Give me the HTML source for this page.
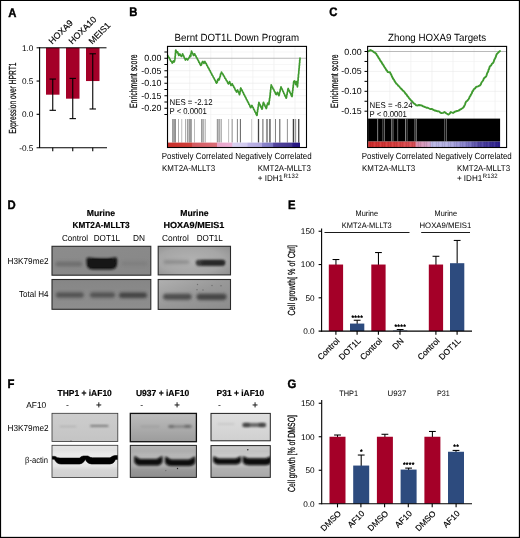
<!DOCTYPE html>
<html><head><meta charset="utf-8"><title>Figure</title>
<style>html,body{margin:0;padding:0;background:#fff;}body{width:520px;height:538px;overflow:hidden;}svg{display:block;font-family:"Liberation Sans",sans-serif;text-rendering:geometricPrecision;will-change:transform;}</style>
</head><body>
<svg width="520" height="538" viewBox="0 0 520 538">
<defs>
<filter id="bl0_6" x="-30%" y="-100%" width="160%" height="300%"><feGaussianBlur stdDeviation="0.6"/></filter><filter id="bl0_8" x="-30%" y="-100%" width="160%" height="300%"><feGaussianBlur stdDeviation="0.8"/></filter><filter id="bl0_9" x="-30%" y="-100%" width="160%" height="300%"><feGaussianBlur stdDeviation="0.9"/></filter><filter id="bl1" x="-30%" y="-100%" width="160%" height="300%"><feGaussianBlur stdDeviation="1"/></filter><filter id="bl1_1" x="-30%" y="-100%" width="160%" height="300%"><feGaussianBlur stdDeviation="1.1"/></filter><filter id="bl1_2" x="-30%" y="-100%" width="160%" height="300%"><feGaussianBlur stdDeviation="1.2"/></filter><filter id="bl1_5" x="-30%" y="-100%" width="160%" height="300%"><feGaussianBlur stdDeviation="1.5"/></filter><filter id="bl1_6" x="-30%" y="-100%" width="160%" height="300%"><feGaussianBlur stdDeviation="1.6"/></filter><filter id="bl1_7" x="-30%" y="-100%" width="160%" height="300%"><feGaussianBlur stdDeviation="1.7"/></filter>
<linearGradient id="cbB" x1="0" x2="1" y1="0" y2="0"><stop offset="0" stop-color="#c9302b"/><stop offset="0.18" stop-color="#cf3f3a"/><stop offset="0.185" stop-color="#d45a60"/><stop offset="0.37" stop-color="#db6e78"/><stop offset="0.375" stop-color="#e9a3c9"/><stop offset="0.485" stop-color="#ebb0d4"/><stop offset="0.49" stop-color="#d9d2f0"/><stop offset="0.60" stop-color="#cfc8ee"/><stop offset="0.605" stop-color="#bdb4e6"/><stop offset="0.71" stop-color="#b1a8e0"/><stop offset="0.715" stop-color="#8c86cc"/><stop offset="0.795" stop-color="#7d78c4"/><stop offset="0.80" stop-color="#54479f"/><stop offset="0.94" stop-color="#43368f"/><stop offset="0.945" stop-color="#2a1b86"/><stop offset="1" stop-color="#24157e"/></linearGradient>
<linearGradient id="cbC" x1="0" x2="1" y1="0" y2="0"><stop offset="0" stop-color="#cf2c2c"/><stop offset="0.2" stop-color="#d43c3c"/><stop offset="0.355" stop-color="#d85058"/><stop offset="0.365" stop-color="#d88aa8"/><stop offset="0.47" stop-color="#cfa4cc"/><stop offset="0.48" stop-color="#b9b6e4"/><stop offset="0.60" stop-color="#b4b1e2"/><stop offset="0.66" stop-color="#a29ddb"/><stop offset="0.76" stop-color="#7a74c2"/><stop offset="0.84" stop-color="#5146a2"/><stop offset="1" stop-color="#2a1d8a"/></linearGradient>
<linearGradient id="gD1" x1="0" x2="1" y1="0" y2="1"><stop offset="0" stop-color="#8c8c8c"/><stop offset="1" stop-color="#878787"/></linearGradient>
<linearGradient id="gD2" x1="0" x2="0" y1="0" y2="1"><stop offset="0" stop-color="#868686"/><stop offset="1" stop-color="#8e8e8e"/></linearGradient>
<radialGradient id="gD3" cx="0.45" cy="0.5" r="0.75"><stop offset="0" stop-color="#b2b2b2"/><stop offset="0.6" stop-color="#a6a6a6"/><stop offset="1" stop-color="#8e8e8e"/></radialGradient>
<linearGradient id="gD4" x1="0" x2="1" y1="0" y2="1"><stop offset="0" stop-color="#b0b0b0"/><stop offset="0.5" stop-color="#989898"/><stop offset="1" stop-color="#8c8c8c"/></linearGradient>
<linearGradient id="gF1" x1="0" x2="0" y1="0" y2="1"><stop offset="0" stop-color="#cdcdcd"/><stop offset="1" stop-color="#c4c4c4"/></linearGradient>
<linearGradient id="gF1b" x1="0" x2="0" y1="0" y2="1"><stop offset="0" stop-color="#e4e4e4"/><stop offset="1" stop-color="#d0d0d0"/></linearGradient>
<linearGradient id="gF2" x1="0" x2="0" y1="0" y2="1"><stop offset="0" stop-color="#bdbdbd"/><stop offset="1" stop-color="#9c9c9c"/></linearGradient>
<linearGradient id="gF2b" x1="0" x2="0" y1="0" y2="1"><stop offset="0" stop-color="#b4b4b4"/><stop offset="1" stop-color="#8e8e8e"/></linearGradient>
<linearGradient id="gF3" x1="0" x2="0" y1="0" y2="1"><stop offset="0" stop-color="#dedede"/><stop offset="1" stop-color="#d0d0d0"/></linearGradient>
<linearGradient id="gF3b" x1="0" x2="0" y1="0" y2="1"><stop offset="0" stop-color="#c8c8c8"/><stop offset="1" stop-color="#a8a8a8"/></linearGradient>
</defs>
<rect x="0" y="0" width="520" height="538" fill="#fff"/>
<text font-size="12.3" font-weight="bold" transform="translate(8.3,16.6) scale(0.92,1)" fill="#000" stroke="#000" stroke-width="0.4">A</text>
<rect x="46" y="47.8" width="13.5" height="46.88" fill="#a40028"/>
<line x1="52.75" y1="79.05499999999999" x2="52.75" y2="110.31" stroke="#000" stroke-width="1.1"/>
<line x1="49.55" y1="79.05499999999999" x2="55.95" y2="79.05499999999999" stroke="#000" stroke-width="1.1"/>
<line x1="49.55" y1="110.31" x2="55.95" y2="110.31" stroke="#000" stroke-width="1.1"/>
<rect x="66" y="47.8" width="13.5" height="50.87" fill="#a40028"/>
<line x1="72.75" y1="78.38999999999999" x2="72.75" y2="118.62249999999999" stroke="#000" stroke-width="1.1"/>
<line x1="69.55" y1="78.38999999999999" x2="75.95" y2="78.38999999999999" stroke="#000" stroke-width="1.1"/>
<line x1="69.55" y1="118.62249999999999" x2="75.95" y2="118.62249999999999" stroke="#000" stroke-width="1.1"/>
<rect x="86" y="47.8" width="13.5" height="33.25" fill="#a40028"/>
<line x1="92.75" y1="53.785" x2="92.75" y2="108.97999999999999" stroke="#000" stroke-width="1.1"/>
<line x1="89.55" y1="53.785" x2="95.95" y2="53.785" stroke="#000" stroke-width="1.1"/>
<line x1="89.55" y1="108.97999999999999" x2="95.95" y2="108.97999999999999" stroke="#000" stroke-width="1.1"/>
<line x1="39.6" y1="47.3" x2="39.6" y2="148" stroke="#000" stroke-width="1.1"/>
<line x1="36.6" y1="47.8" x2="106.5" y2="47.8" stroke="#000" stroke-width="1.0"/>
<line x1="36.6" y1="147.8" x2="107" y2="147.8" stroke="#000" stroke-width="1.1"/>
<line x1="36.6" y1="81.05" x2="39.6" y2="81.05" stroke="#000" stroke-width="1.1"/>
<line x1="36.6" y1="114.3" x2="39.6" y2="114.3" stroke="#000" stroke-width="1.1"/>
<line x1="52.75" y1="147.8" x2="52.75" y2="151.2" stroke="#000" stroke-width="1.1"/>
<line x1="72.75" y1="147.8" x2="72.75" y2="151.2" stroke="#000" stroke-width="1.1"/>
<line x1="92.75" y1="147.8" x2="92.75" y2="151.2" stroke="#000" stroke-width="1.1"/>
<text font-size="8.24" text-anchor="end" x="33.4" y="50.75" fill="#000">1.0</text>
<text font-size="8.24" text-anchor="end" x="33.4" y="84.0" fill="#000">0.5</text>
<text font-size="8.24" text-anchor="end" x="33.4" y="117.25" fill="#000">0.0</text>
<text font-size="8.24" text-anchor="end" x="33.4" y="150.5" fill="#000">-0.5</text>
<text font-size="10.27" textLength="71.2" lengthAdjust="spacingAndGlyphs" transform="translate(16,133.7) rotate(-90)" fill="#000" stroke="#000" stroke-width="0.2">Expression over HPRT1</text>
<text font-size="8.83" transform="translate(52.35,44.7) rotate(-45)" fill="#000" stroke="#000" stroke-width="0.15">HOXA9</text>
<text font-size="8.83" transform="translate(72.35,44.7) rotate(-45)" fill="#000" stroke="#000" stroke-width="0.15">HOXA10</text>
<text font-size="8.83" transform="translate(92.35,44.7) rotate(-45)" fill="#000" stroke="#000" stroke-width="0.15">MEIS1</text>
<text font-size="12.3" font-weight="bold" transform="translate(129.3,16.3) scale(0.92,1)" fill="#000" stroke="#000" stroke-width="0.4">B</text>
<line x1="168.7" y1="46.4" x2="168.7" y2="147.5" stroke="#ebebeb" stroke-width="0.6"/>
<line x1="189.75" y1="46.4" x2="189.75" y2="147.5" stroke="#ebebeb" stroke-width="0.6"/>
<line x1="210.79999999999998" y1="46.4" x2="210.79999999999998" y2="147.5" stroke="#ebebeb" stroke-width="0.6"/>
<line x1="231.85" y1="46.4" x2="231.85" y2="147.5" stroke="#ebebeb" stroke-width="0.6"/>
<line x1="252.89999999999998" y1="46.4" x2="252.89999999999998" y2="147.5" stroke="#ebebeb" stroke-width="0.6"/>
<line x1="273.95" y1="46.4" x2="273.95" y2="147.5" stroke="#ebebeb" stroke-width="0.6"/>
<line x1="295.0" y1="46.4" x2="295.0" y2="147.5" stroke="#ebebeb" stroke-width="0.6"/>
<line x1="167.5" y1="58.25" x2="306.5" y2="58.25" stroke="#a8a8a8" stroke-width="0.8"/>
<line x1="167.5" y1="64.5" x2="306.5" y2="64.5" stroke="#f2f2f2" stroke-width="0.6"/>
<line x1="167.5" y1="70.75" x2="306.5" y2="70.75" stroke="#e8e8e8" stroke-width="0.6"/>
<line x1="167.5" y1="77.0" x2="306.5" y2="77.0" stroke="#f2f2f2" stroke-width="0.6"/>
<line x1="167.5" y1="83.25" x2="306.5" y2="83.25" stroke="#e8e8e8" stroke-width="0.6"/>
<line x1="167.5" y1="89.5" x2="306.5" y2="89.5" stroke="#f2f2f2" stroke-width="0.6"/>
<line x1="167.5" y1="95.75" x2="306.5" y2="95.75" stroke="#e8e8e8" stroke-width="0.6"/>
<line x1="167.5" y1="102.0" x2="306.5" y2="102.0" stroke="#f2f2f2" stroke-width="0.6"/>
<line x1="167.5" y1="108.25" x2="306.5" y2="108.25" stroke="#e8e8e8" stroke-width="0.6"/>
<line x1="167.5" y1="114.5" x2="306.5" y2="114.5" stroke="#f2f2f2" stroke-width="0.6"/>
<line x1="167.5" y1="52.0" x2="306.5" y2="52.0" stroke="#efefef" stroke-width="0.6"/>
<line x1="164.4" y1="52.0" x2="167.5" y2="52.0" stroke="#000" stroke-width="1.0"/>
<line x1="164.4" y1="58.25" x2="167.5" y2="58.25" stroke="#000" stroke-width="1.0"/>
<line x1="164.4" y1="64.5" x2="167.5" y2="64.5" stroke="#000" stroke-width="1.0"/>
<line x1="164.4" y1="70.75" x2="167.5" y2="70.75" stroke="#000" stroke-width="1.0"/>
<line x1="164.4" y1="77.0" x2="167.5" y2="77.0" stroke="#000" stroke-width="1.0"/>
<line x1="164.4" y1="83.25" x2="167.5" y2="83.25" stroke="#000" stroke-width="1.0"/>
<line x1="164.4" y1="89.5" x2="167.5" y2="89.5" stroke="#000" stroke-width="1.0"/>
<line x1="164.4" y1="95.75" x2="167.5" y2="95.75" stroke="#000" stroke-width="1.0"/>
<line x1="164.4" y1="102.0" x2="167.5" y2="102.0" stroke="#000" stroke-width="1.0"/>
<line x1="164.4" y1="108.25" x2="167.5" y2="108.25" stroke="#000" stroke-width="1.0"/>
<line x1="164.4" y1="114.5" x2="167.5" y2="114.5" stroke="#000" stroke-width="1.0"/>
<text font-size="8.88" text-anchor="end" x="161.5" y="61.25" fill="#000">0.00</text>
<text font-size="8.88" text-anchor="end" x="161.5" y="73.75" fill="#000">-0.05</text>
<text font-size="8.88" text-anchor="end" x="161.5" y="86.25" fill="#000">-0.10</text>
<text font-size="8.88" text-anchor="end" x="161.5" y="98.75" fill="#000">-0.15</text>
<text font-size="8.88" text-anchor="end" x="161.5" y="111.25" fill="#000">-0.20</text>
<text font-size="10.59" textLength="53.5" lengthAdjust="spacingAndGlyphs" transform="translate(137.4,108) rotate(-90)" fill="#000" stroke="#000" stroke-width="0.2">Enrichment score</text>
<rect x="172.18" y="119" width="1.04" height="23.6" fill="#8a8a8a"/>
<rect x="173.16" y="119" width="2.08" height="23.6" fill="#9a9a9a"/>
<rect x="175.10999999999999" y="119" width="0.78" height="23.6" fill="#777"/>
<rect x="178.10999999999999" y="119" width="0.78" height="23.6" fill="#999"/>
<rect x="181.41" y="119" width="0.78" height="23.6" fill="#aaa"/>
<rect x="185.21" y="119" width="0.78" height="23.6" fill="#999"/>
<rect x="186.895" y="119" width="0.91" height="23.6" fill="#888"/>
<rect x="188.42" y="119" width="1.56" height="23.6" fill="#999"/>
<rect x="190.10500000000002" y="119" width="1.69" height="23.6" fill="#909090"/>
<rect x="194.10999999999999" y="119" width="0.78" height="23.6" fill="#aaa"/>
<rect x="201.005" y="119" width="1.69" height="23.6" fill="#9a9a9a"/>
<rect x="203.095" y="119" width="0.91" height="23.6" fill="#aaa"/>
<rect x="204.69500000000002" y="119" width="0.91" height="23.6" fill="#999"/>
<rect x="216.79" y="119" width="1.82" height="23.6" fill="#9a9a9a"/>
<rect x="218.85" y="119" width="1.3" height="23.6" fill="#aaa"/>
<rect x="220.68" y="119" width="1.04" height="23.6" fill="#999"/>
<rect x="228.31" y="119" width="0.78" height="23.6" fill="#aaa"/>
<rect x="231.69500000000002" y="119" width="0.91" height="23.6" fill="#888"/>
<rect x="236.895" y="119" width="0.91" height="23.6" fill="#777"/>
<rect x="239.88" y="119" width="1.04" height="23.6" fill="#666"/>
<rect x="251.31" y="119" width="0.78" height="23.6" fill="#bbb"/>
<rect x="257.85" y="119" width="1.3" height="23.6" fill="#444"/>
<rect x="262.38" y="119" width="1.04" height="23.6" fill="#666"/>
<rect x="265.96" y="119" width="2.08" height="23.6" fill="#999"/>
<rect x="269.365" y="119" width="1.17" height="23.6" fill="#333"/>
<rect x="275.09499999999997" y="119" width="0.91" height="23.6" fill="#777"/>
<rect x="279.28" y="119" width="1.04" height="23.6" fill="#555"/>
<rect x="286.895" y="119" width="0.91" height="23.6" fill="#888"/>
<rect x="292.765" y="119" width="1.17" height="23.6" fill="#333"/>
<rect x="294.62" y="119" width="1.56" height="23.6" fill="#999"/>
<rect x="298.165" y="119" width="1.17" height="23.6" fill="#333"/>
<rect x="168.0" y="142.6" width="132" height="4.9" fill="url(#cbB)"/>
<polyline points="167.7,55.4 168.52,57.11 169.17,57.71 170,59.5 170.82,61.08 171.47,61.46 172.3,63.1 173.4,61 174,62 174.52,61.05 174.9,59.2 175.07,58.18 175.12,56.29 175.36,55.76 175.36,53.6 175.59,52.97 175.59,50.77 175.8,50 176.46,51.65 177,52.5 177.6,51.8 178.28,54.11 178.8,55.4 179.8,54 180.71,55.61 181.5,56.4 182.12,55.55 182.6,53.8 183.21,55.36 183.65,55.83 184.36,58.03 184.78,58.34 185.4,60 186.4,58.6 187.7,60 188.4,58.5 189.2,57.7 190,55.5 190.6,56.5 190.9,55.63 190.98,53.34 191.32,52.74 191.5,51.1 192.24,53.02 192.77,53.53 193.5,55.4 194.6,53.8 195.27,55.32 195.8,55.84 196.54,57.79 197.02,58.03 197.77,60.07 198.24,60.24 199.01,62.39 199.48,62.55 200.24,64.62 200.8,65.4 201.54,64.6 202.07,62.4 202.8,61.5 203.9,63.3 204.9,61.5 205.63,63.23 206.12,63.38 206.9,65.4 207.45,65.99 208.2,67.83 208.72,68.16 209.51,70.29 210.03,70.65 210.8,72.66 211.34,73.09 212.11,75.08 212.64,75.53 213.42,77.54 213.93,77.86 214.73,80.02 215.23,80.24 216.03,82.43 216.6,83.1 217.24,82.24 217.65,79.82 218.3,79 218.9,80 219.4,79.13 219.72,77.01 220.28,76.51 220.55,74.13 221.15,73.86 221.5,72 222.26,73.61 222.83,73.89 223.65,75.87 224.22,76.22 225.06,78.33 225.65,78.73 226.44,80.55 227.02,80.93 227.88,83.17 228.5,83.8 229.6,81.6 230.11,83.17 230.46,83.64 231,85.4 232.2,83.8 232.87,85.36 233.38,85.83 234.1,87.67 234.58,88.0 235.35,90.17 235.84,90.54 236.5,92 237.6,90 238.3,91.98 238.82,92.78 239.5,94.6 239.83,93.75 239.97,91.59 240.36,91.16 240.46,88.78 240.8,88 241.49,89.65 241.97,89.91 242.73,92.05 243.26,92.63 243.99,94.6 244.51,95.1 245.22,96.95 245.74,97.46 246.49,99.52 247.0,99.99 247.72,101.83 248.22,102.26 248.98,104.37 249.47,104.7 250.25,106.99 250.8,107.7 251.9,105.4 252.58,107.03 253.09,107.5 253.84,109.57 254.33,109.95 255.09,112.09 255.59,112.47 256.34,114.6 256.9,115.4 257.18,114.62 257.24,112.37 257.56,111.86 257.63,109.69 257.95,109.19 258.05,107.18 258.38,106.77 258.44,104.5 258.76,104.04 258.9,102.3 259.56,103.96 260.08,104.67 260.83,106.87 261.34,107.54 262,109.2 262.37,108.26 262.53,105.99 262.94,105.35 263.13,103.23 263.5,102.3 264.1,103.94 264.51,104.32 265.18,106.39 265.59,106.79 266.2,108.5 266.65,107.6 266.91,105.47 267.37,104.67 267.7,103 268.8,104.6 269.07,103.63 269.12,101.19 269.45,100.64 269.54,98.47 269.87,97.87 270,96 270.2,94.98 270.24,92.85 270.5,92.2 270.54,90.07 270.82,89.5 270.85,87.32 271.11,86.67 271.2,84.9 271.9,86.6 272.41,87.04 273.14,88.97 273.63,89.27 274.38,91.32 274.9,91.84 275.65,93.88 276.2,94.6 277.4,92.3 278.2,94.34 278.9,95.7 279.3,94.56 279.54,92.37 280.02,91.77 280.25,89.53 280.7,88.73 281,86.9 281.63,88.52 282.08,88.91 282.79,91.06 283.23,91.41 283.94,93.5 284.41,94.07 285.11,96.14 285.54,96.43 286.2,98.2 286.55,97.21 286.72,95.09 287.1,94.35 287.28,92.24 287.68,91.6 287.84,89.39 288.2,88.5 288.91,90.36 289.42,90.87 290.15,92.9 290.66,93.4 291.43,95.7 292,96.6 292.24,95.72 292.27,93.48 292.54,92.79 292.6,90.75 292.89,90.23 292.93,88.01 293.2,87.36 293.25,85.23 293.53,84.64 293.58,82.49 293.8,81.5 294.6,80.8 295.08,82.59 295.35,83.02 295.8,84.6 296.19,83.33 296.5,81.5 296.81,83.38 296.87,83.68 297.26,86.1 297.4,86.9 297.59,85.86 297.59,83.5 297.88,83.13 297.88,80.83 298.14,80.21 298.12,77.79 298.4,77.32 298.4,75.02 298.6,74 298.77,73.04 298.78,71.0 299.0,70.39 299.02,68.44 299.25,67.85 299.25,65.75 299.49,65.28 299.49,63.18 299.73,62.67 299.7,60.37 299.96,60.05 300,58.2" fill="none" stroke="#3f9a2f" stroke-width="1.7" stroke-linejoin="round" stroke-linecap="round"/>
<rect x="167.5" y="46.4" width="139.0" height="101.1" fill="none" stroke="#000" stroke-width="1.1"/>
<text font-size="10.38" textLength="124.5" lengthAdjust="spacingAndGlyphs" x="174.5" y="40.6" fill="#000">Bernt DOT1L Down Program</text>
<text font-size="8.56" textLength="43" lengthAdjust="spacingAndGlyphs" x="169.5" y="105.3" fill="#000">NES = -2.12</text>
<text font-size="8.56" textLength="37.3" lengthAdjust="spacingAndGlyphs" x="169.5" y="114" fill="#000">P &lt; 0.0001</text>
<text font-size="8.88" textLength="150" lengthAdjust="spacingAndGlyphs" x="161.7" y="158.8" fill="#000">Postively Correlated Negatively Correlated</text>
<text font-size="8.56" textLength="53.2" lengthAdjust="spacingAndGlyphs" x="161.9" y="170.9" fill="#000">KMT2A-MLLT3</text>
<text font-size="8.56" textLength="53.2" lengthAdjust="spacingAndGlyphs" x="257.7" y="170.9" fill="#000">KMT2A-MLLT3</text>
<text x="257.7" y="181" font-size="8.56" textLength="41" lengthAdjust="spacingAndGlyphs" fill="#000">+ IDH1<tspan font-size="6.3" dy="-3.2" dx="0.4" letter-spacing="0.25">R132</tspan></text>
<text font-size="12.3" font-weight="bold" transform="translate(329.2,16.3) scale(0.92,1)" fill="#000" stroke="#000" stroke-width="0.4">C</text>
<line x1="368.8" y1="46.4" x2="368.8" y2="147.5" stroke="#ebebeb" stroke-width="0.6"/>
<line x1="389.85" y1="46.4" x2="389.85" y2="147.5" stroke="#ebebeb" stroke-width="0.6"/>
<line x1="410.90000000000003" y1="46.4" x2="410.90000000000003" y2="147.5" stroke="#ebebeb" stroke-width="0.6"/>
<line x1="431.95000000000005" y1="46.4" x2="431.95000000000005" y2="147.5" stroke="#ebebeb" stroke-width="0.6"/>
<line x1="453.0" y1="46.4" x2="453.0" y2="147.5" stroke="#ebebeb" stroke-width="0.6"/>
<line x1="474.05" y1="46.4" x2="474.05" y2="147.5" stroke="#ebebeb" stroke-width="0.6"/>
<line x1="495.1" y1="46.4" x2="495.1" y2="147.5" stroke="#ebebeb" stroke-width="0.6"/>
<line x1="367.6" y1="51.5" x2="506.6" y2="51.5" stroke="#a8a8a8" stroke-width="0.8"/>
<line x1="367.6" y1="61.45" x2="506.6" y2="61.45" stroke="#f2f2f2" stroke-width="0.6"/>
<line x1="367.6" y1="71.4" x2="506.6" y2="71.4" stroke="#e8e8e8" stroke-width="0.6"/>
<line x1="367.6" y1="81.35000000000001" x2="506.6" y2="81.35000000000001" stroke="#f2f2f2" stroke-width="0.6"/>
<line x1="367.6" y1="91.30000000000001" x2="506.6" y2="91.30000000000001" stroke="#e8e8e8" stroke-width="0.6"/>
<line x1="367.6" y1="101.25000000000001" x2="506.6" y2="101.25000000000001" stroke="#f2f2f2" stroke-width="0.6"/>
<line x1="367.6" y1="111.20000000000002" x2="506.6" y2="111.20000000000002" stroke="#e8e8e8" stroke-width="0.6"/>
<line x1="364.5" y1="51.5" x2="367.6" y2="51.5" stroke="#000" stroke-width="1.0"/>
<line x1="364.5" y1="61.45" x2="367.6" y2="61.45" stroke="#000" stroke-width="1.0"/>
<line x1="364.5" y1="71.4" x2="367.6" y2="71.4" stroke="#000" stroke-width="1.0"/>
<line x1="364.5" y1="81.35000000000001" x2="367.6" y2="81.35000000000001" stroke="#000" stroke-width="1.0"/>
<line x1="364.5" y1="91.30000000000001" x2="367.6" y2="91.30000000000001" stroke="#000" stroke-width="1.0"/>
<line x1="364.5" y1="101.25000000000001" x2="367.6" y2="101.25000000000001" stroke="#000" stroke-width="1.0"/>
<line x1="364.5" y1="111.20000000000002" x2="367.6" y2="111.20000000000002" stroke="#000" stroke-width="1.0"/>
<text font-size="8.88" text-anchor="end" x="361.6" y="54.5" fill="#000">0.00</text>
<text font-size="8.88" text-anchor="end" x="361.6" y="74.4" fill="#000">-0.05</text>
<text font-size="8.88" text-anchor="end" x="361.6" y="94.3" fill="#000">-0.10</text>
<text font-size="8.88" text-anchor="end" x="361.6" y="114.2" fill="#000">-0.15</text>
<text font-size="10.59" textLength="53.5" lengthAdjust="spacingAndGlyphs" transform="translate(337.5,108) rotate(-90)" fill="#000" stroke="#000" stroke-width="0.2">Enrichment score</text>
<rect x="368.1" y="118.6" width="132" height="23" fill="#000"/>
<rect x="377.4" y="118.6" width="0.7" height="23" fill="#bbb"/>
<rect x="382.6" y="118.6" width="0.6" height="23" fill="#999"/>
<rect x="384.4" y="118.6" width="0.6" height="23" fill="#aaa"/>
<rect x="391.4" y="118.6" width="0.8" height="23" fill="#bbb"/>
<rect x="392.8" y="118.6" width="0.6" height="23" fill="#999"/>
<rect x="397.5" y="118.6" width="0.6" height="23" fill="#aaa"/>
<rect x="405.3" y="118.6" width="0.7" height="23" fill="#bbb"/>
<rect x="406.8" y="118.6" width="0.6" height="23" fill="#999"/>
<rect x="414.6" y="118.6" width="0.7" height="23" fill="#bbb"/>
<rect x="416" y="118.6" width="0.6" height="23" fill="#aaa"/>
<rect x="444.6" y="118.6" width="0.5" height="23" fill="#ccc"/>
<rect x="446.1" y="118.6" width="0.5" height="23" fill="#bbb"/>
<rect x="368.1" y="141.6" width="132" height="5.9" fill="url(#cbC)"/>
<rect x="368.1" y="141.6" width="0.6" height="5.9" fill="#fff" opacity="0.13"/>
<rect x="370.1" y="141.6" width="0.6" height="5.9" fill="#000" opacity="0.13"/>
<rect x="372.1" y="141.6" width="0.6" height="5.9" fill="#000" opacity="0.13"/>
<rect x="374.1" y="141.6" width="0.6" height="5.9" fill="#fff" opacity="0.13"/>
<rect x="376.1" y="141.6" width="0.6" height="5.9" fill="#000" opacity="0.13"/>
<rect x="378.1" y="141.6" width="0.6" height="5.9" fill="#000" opacity="0.13"/>
<rect x="380.1" y="141.6" width="0.6" height="5.9" fill="#fff" opacity="0.13"/>
<rect x="382.1" y="141.6" width="0.6" height="5.9" fill="#000" opacity="0.13"/>
<rect x="384.1" y="141.6" width="0.6" height="5.9" fill="#000" opacity="0.13"/>
<rect x="386.1" y="141.6" width="0.6" height="5.9" fill="#fff" opacity="0.13"/>
<rect x="388.1" y="141.6" width="0.6" height="5.9" fill="#000" opacity="0.13"/>
<rect x="390.1" y="141.6" width="0.6" height="5.9" fill="#000" opacity="0.13"/>
<rect x="392.1" y="141.6" width="0.6" height="5.9" fill="#fff" opacity="0.13"/>
<rect x="394.1" y="141.6" width="0.6" height="5.9" fill="#000" opacity="0.13"/>
<rect x="396.1" y="141.6" width="0.6" height="5.9" fill="#000" opacity="0.13"/>
<rect x="398.1" y="141.6" width="0.6" height="5.9" fill="#fff" opacity="0.13"/>
<rect x="400.1" y="141.6" width="0.6" height="5.9" fill="#000" opacity="0.13"/>
<rect x="402.1" y="141.6" width="0.6" height="5.9" fill="#000" opacity="0.13"/>
<rect x="404.1" y="141.6" width="0.6" height="5.9" fill="#fff" opacity="0.13"/>
<rect x="406.1" y="141.6" width="0.6" height="5.9" fill="#000" opacity="0.13"/>
<rect x="408.1" y="141.6" width="0.6" height="5.9" fill="#000" opacity="0.13"/>
<rect x="410.1" y="141.6" width="0.6" height="5.9" fill="#fff" opacity="0.13"/>
<rect x="412.1" y="141.6" width="0.6" height="5.9" fill="#000" opacity="0.13"/>
<rect x="414.1" y="141.6" width="0.6" height="5.9" fill="#000" opacity="0.13"/>
<rect x="416.1" y="141.6" width="0.6" height="5.9" fill="#fff" opacity="0.13"/>
<rect x="418.1" y="141.6" width="0.6" height="5.9" fill="#000" opacity="0.13"/>
<rect x="420.1" y="141.6" width="0.6" height="5.9" fill="#000" opacity="0.13"/>
<rect x="422.1" y="141.6" width="0.6" height="5.9" fill="#fff" opacity="0.13"/>
<rect x="424.1" y="141.6" width="0.6" height="5.9" fill="#000" opacity="0.13"/>
<rect x="426.1" y="141.6" width="0.6" height="5.9" fill="#000" opacity="0.13"/>
<rect x="428.1" y="141.6" width="0.6" height="5.9" fill="#fff" opacity="0.13"/>
<rect x="430.1" y="141.6" width="0.6" height="5.9" fill="#000" opacity="0.13"/>
<rect x="432.1" y="141.6" width="0.6" height="5.9" fill="#000" opacity="0.13"/>
<rect x="434.1" y="141.6" width="0.6" height="5.9" fill="#fff" opacity="0.13"/>
<rect x="436.1" y="141.6" width="0.6" height="5.9" fill="#000" opacity="0.13"/>
<rect x="438.1" y="141.6" width="0.6" height="5.9" fill="#000" opacity="0.13"/>
<rect x="440.1" y="141.6" width="0.6" height="5.9" fill="#fff" opacity="0.13"/>
<rect x="442.1" y="141.6" width="0.6" height="5.9" fill="#000" opacity="0.13"/>
<rect x="444.1" y="141.6" width="0.6" height="5.9" fill="#000" opacity="0.13"/>
<rect x="446.1" y="141.6" width="0.6" height="5.9" fill="#fff" opacity="0.13"/>
<rect x="448.1" y="141.6" width="0.6" height="5.9" fill="#000" opacity="0.13"/>
<rect x="450.1" y="141.6" width="0.6" height="5.9" fill="#000" opacity="0.13"/>
<rect x="452.1" y="141.6" width="0.6" height="5.9" fill="#fff" opacity="0.13"/>
<rect x="454.1" y="141.6" width="0.6" height="5.9" fill="#000" opacity="0.13"/>
<rect x="456.1" y="141.6" width="0.6" height="5.9" fill="#000" opacity="0.13"/>
<rect x="458.1" y="141.6" width="0.6" height="5.9" fill="#fff" opacity="0.13"/>
<rect x="460.1" y="141.6" width="0.6" height="5.9" fill="#000" opacity="0.13"/>
<rect x="462.1" y="141.6" width="0.6" height="5.9" fill="#000" opacity="0.13"/>
<rect x="464.1" y="141.6" width="0.6" height="5.9" fill="#fff" opacity="0.13"/>
<rect x="466.1" y="141.6" width="0.6" height="5.9" fill="#000" opacity="0.13"/>
<rect x="468.1" y="141.6" width="0.6" height="5.9" fill="#000" opacity="0.13"/>
<rect x="470.1" y="141.6" width="0.6" height="5.9" fill="#fff" opacity="0.13"/>
<rect x="472.1" y="141.6" width="0.6" height="5.9" fill="#000" opacity="0.13"/>
<rect x="474.1" y="141.6" width="0.6" height="5.9" fill="#000" opacity="0.13"/>
<rect x="476.1" y="141.6" width="0.6" height="5.9" fill="#fff" opacity="0.13"/>
<rect x="478.1" y="141.6" width="0.6" height="5.9" fill="#000" opacity="0.13"/>
<rect x="480.1" y="141.6" width="0.6" height="5.9" fill="#000" opacity="0.13"/>
<rect x="482.1" y="141.6" width="0.6" height="5.9" fill="#fff" opacity="0.13"/>
<rect x="484.1" y="141.6" width="0.6" height="5.9" fill="#000" opacity="0.13"/>
<rect x="486.1" y="141.6" width="0.6" height="5.9" fill="#000" opacity="0.13"/>
<rect x="488.1" y="141.6" width="0.6" height="5.9" fill="#fff" opacity="0.13"/>
<rect x="490.1" y="141.6" width="0.6" height="5.9" fill="#000" opacity="0.13"/>
<rect x="492.1" y="141.6" width="0.6" height="5.9" fill="#000" opacity="0.13"/>
<rect x="494.1" y="141.6" width="0.6" height="5.9" fill="#fff" opacity="0.13"/>
<rect x="496.1" y="141.6" width="0.6" height="5.9" fill="#000" opacity="0.13"/>
<rect x="498.1" y="141.6" width="0.6" height="5.9" fill="#000" opacity="0.13"/>
<polyline points="368.5,51.3 370.5,50 372.5,51 373.77,52.17 374.94,52.67 376.2,53.8 377.0,55.33 377.69,56.09 378.52,57.79 379.2,58.52 380,60 380.83,61.45 381.56,62.26 382.43,63.96 383.16,64.79 384,66.3 384.77,67.63 385.45,68.39 386.26,69.97 386.91,70.54 387.7,72 390,72.3 390.65,73.8 391.22,74.69 391.92,76.48 392.5,77.5 393.28,79.04 393.91,79.62 394.71,81.34 395.4,82.3 396.37,83.69 397.21,84.2 398.21,85.75 399.05,86.23 400,87.5 400.95,88.66 401.81,89.22 402.79,90.61 403.63,91.02 404.6,92.3 405.53,93.66 406.36,94.32 407.34,96.04 408.16,96.66 409.14,98.32 410,99.2 411.03,100.49 411.97,101.21 413,102.5 414.1,103.68 415.09,104.14 416.2,105.4 417.64,105.45 419,105 421.5,105.4 423.28,106.43 425,107 426.44,107.78 427.76,107.75 429.2,108.5 430.5,109.09 431.69,108.92 433,109.6 434.64,110.5 436.2,110.8 437.63,111.32 439,111.4 440.29,112.53 441.5,113.1 443.04,112.82 444.5,112 446.5,113.5 448.5,114.6 449.7,113.63 450.8,112 453,113 455,111.6 457,111 458.55,110.6 460,109.6 461.53,108.88 463,107.7 463.8,106.95 464.5,105.5 465.1,104.36 465.6,102.59 466.2,101.5 467.4,100.66 468.5,99.2 469.16,98.23 469.71,96.59 470.4,95.86 471,94.5 471.74,93.47 472.35,91.54 473.14,90.8 473.8,89.2 475.05,88.38 476.2,86.9 478,86.3 480,85.4 480.8,84.33 481.49,82.5 482.3,81.5 483.11,80.51 483.79,78.69 484.6,77.7 486,76.5 486.6,75.35 487.09,73.38 487.7,72.3 488.21,71.42 488.58,69.6 489.12,68.93 489.51,67.23 490,66.2 491.04,65.43 491.96,63.78 493,63 493.72,61.85 494.29,59.68 495,58.5 495.7,57.16 496.3,55.12 497,53.8 498.5,52.3 500,51.1" fill="none" stroke="#3f9a2f" stroke-width="1.9" stroke-linejoin="round" stroke-linecap="round"/>
<rect x="367.6" y="46.4" width="139.0" height="101.1" fill="none" stroke="#000" stroke-width="1.1"/>
<text font-size="10.38" textLength="98" lengthAdjust="spacingAndGlyphs" x="388.1" y="40.6" fill="#000">Zhong HOXA9 Targets</text>
<text font-size="8.56" textLength="43" lengthAdjust="spacingAndGlyphs" x="369.6" y="107.8" fill="#000">NES = -6.24</text>
<text font-size="8.56" textLength="37.3" lengthAdjust="spacingAndGlyphs" x="369.6" y="116.8" fill="#000">P &lt; 0.0001</text>
<text font-size="8.88" textLength="150" lengthAdjust="spacingAndGlyphs" x="361.8" y="158.8" fill="#000">Postively Correlated Negatively Correlated</text>
<text font-size="8.56" textLength="53.2" lengthAdjust="spacingAndGlyphs" x="362.0" y="170.9" fill="#000">KMT2A-MLLT3</text>
<text font-size="8.56" textLength="53.2" lengthAdjust="spacingAndGlyphs" x="456.90000000000003" y="170.9" fill="#000">KMT2A-MLLT3</text>
<text x="456.90000000000003" y="181" font-size="8.56" textLength="41" lengthAdjust="spacingAndGlyphs" fill="#000">+ IDH1<tspan font-size="6.3" dy="-3.2" dx="0.4" letter-spacing="0.25">R132</tspan></text>
<text font-size="12.3" font-weight="bold" transform="translate(7.5,208.8) scale(0.92,1)" fill="#000" stroke="#000" stroke-width="0.4">D</text>
<text font-size="8.77" font-weight="bold" textLength="28.3" lengthAdjust="spacingAndGlyphs" x="86.75" y="216.2" fill="#000" stroke="#000" stroke-width="0.18">Murine</text>
<text font-size="8.77" font-weight="bold" textLength="57" lengthAdjust="spacingAndGlyphs" x="72.5" y="228.4" fill="#000" stroke="#000" stroke-width="0.18">KMT2A-MLLT3</text>
<text font-size="8.77" font-weight="bold" textLength="28.3" lengthAdjust="spacingAndGlyphs" x="180.3" y="216.2" fill="#000" stroke="#000" stroke-width="0.18">Murine</text>
<text font-size="8.77" font-weight="bold" textLength="61" lengthAdjust="spacingAndGlyphs" x="163.4" y="228.4" fill="#000" stroke="#000" stroke-width="0.18">HOXA9/MEIS1</text>
<text font-size="8.67" textLength="26" lengthAdjust="spacingAndGlyphs" x="62" y="240.9" fill="#000">Control</text>
<text font-size="8.67" textLength="26.2" lengthAdjust="spacingAndGlyphs" x="93.75" y="240.9" fill="#000">DOT1L</text>
<text font-size="8.67" textLength="12" lengthAdjust="spacingAndGlyphs" x="133" y="240.9" fill="#000">DN</text>
<text font-size="8.67" textLength="26.8" lengthAdjust="spacingAndGlyphs" x="162" y="240.9" fill="#000">Control</text>
<text font-size="8.67" textLength="26.2" lengthAdjust="spacingAndGlyphs" x="196.7" y="240.9" fill="#000">DOT1L</text>
<text font-size="8.77" textLength="41.0" lengthAdjust="spacingAndGlyphs" x="7.6" y="263.9" fill="#000">H3K79me2</text>
<text font-size="8.77" textLength="29.5" lengthAdjust="spacingAndGlyphs" x="19" y="297" fill="#000">Total H4</text>
<clipPath id="cD1"><rect x="52" y="246.3" width="98.8" height="28.9"/></clipPath>
<rect x="52" y="246.3" width="98.8" height="28.9" fill="url(#gD1)"/>
<g clip-path="url(#cD1)">
<rect x="55.3" y="261.4" width="27" height="5" rx="2.5" fill="#555" opacity="0.5" filter="url(#bl1_5)"/>
<path d="M86.4,259.4 Q86.2,257.2 89,257.6 Q101.5,259.2 114.3,257.4 Q117.4,257 117.3,259.8 L117.1,264.5 Q116.5,269.5 110.5,269.5 L93.5,269.5 Q87,269.5 86.6,264.5 Z" fill="#181818" filter="url(#bl0_8)"/>
<rect x="88.3" y="259.35" width="27" height="8.5" rx="4.25" fill="#141414" opacity="1" filter="url(#bl0_6)"/>
<rect x="121.5" y="261.4" width="26" height="4" rx="2.0" fill="#6a6a6a" opacity="0.3" filter="url(#bl1_5)"/>
</g>
<rect x="52" y="246.3" width="98.8" height="28.9" fill="none" stroke="#2a2a2a" stroke-width="1.1"/>
<clipPath id="cD2"><rect x="52" y="279.5" width="98.8" height="29.8"/></clipPath>
<rect x="52" y="279.5" width="98.8" height="29.8" fill="url(#gD2)"/>
<g clip-path="url(#cD2)">
<rect x="55.8" y="292.25" width="28" height="5.5" rx="2.75" fill="#3c3c3c" opacity="0.7" filter="url(#bl1_7)"/>
<rect x="90.0" y="292.25" width="25" height="5.5" rx="2.75" fill="#3c3c3c" opacity="0.7" filter="url(#bl1_7)"/>
<rect x="119.0" y="292.45" width="28" height="5.5" rx="2.75" fill="#303030" opacity="0.8" filter="url(#bl1_7)"/>
</g>
<rect x="52" y="279.5" width="98.8" height="29.8" fill="none" stroke="#2a2a2a" stroke-width="1.1"/>
<clipPath id="cD3"><rect x="158.2" y="246.3" width="72.3" height="28.6"/></clipPath>
<rect x="158.2" y="246.3" width="72.3" height="28.6" fill="url(#gD3)"/>
<g clip-path="url(#cD3)">
<rect x="163.5" y="260.2" width="26" height="3.6" rx="1.8" fill="#666" opacity="0.45" filter="url(#bl1_5)"/>
<rect x="195.75" y="259.7" width="29.5" height="6.2" rx="3.1" fill="#2e2e2e" opacity="0.9" filter="url(#bl1_2)"/>
<rect x="201.5" y="260.8" width="23" height="3.8" rx="1.9" fill="#242424" opacity="0.9" filter="url(#bl0_8)"/>
</g>
<rect x="158.2" y="246.3" width="72.3" height="28.6" fill="none" stroke="#2a2a2a" stroke-width="1.1"/>
<clipPath id="cD4"><rect x="158.2" y="279.5" width="72.3" height="29.9"/></clipPath>
<rect x="158.2" y="279.5" width="72.3" height="29.9" fill="url(#gD4)"/>
<g clip-path="url(#cD4)">
<rect x="163.05" y="293.8" width="28.5" height="6" rx="3.0" fill="#3a3a3a" opacity="0.8" filter="url(#bl1_6)"/>
<rect x="196.6" y="293.7" width="30" height="6.2" rx="3.1" fill="#363636" opacity="0.82" filter="url(#bl1_6)"/>
<circle cx="197.5" cy="284.5" r="0.7" fill="#444" opacity="0.5"/>
<circle cx="197" cy="289.8" r="0.7" fill="#444" opacity="0.5"/>
<circle cx="203" cy="290" r="0.7" fill="#444" opacity="0.5"/>
<circle cx="212" cy="285.5" r="0.7" fill="#444" opacity="0.5"/>
<circle cx="221" cy="285.8" r="0.7" fill="#444" opacity="0.5"/>
</g>
<rect x="158.2" y="279.5" width="72.3" height="29.9" fill="none" stroke="#2a2a2a" stroke-width="1.1"/>
<text font-size="12.3" font-weight="bold" transform="translate(288,209) scale(0.92,1)" fill="#000" stroke="#000" stroke-width="0.4">E</text>
<line x1="335.95" y1="259.54083333333335" x2="335.95" y2="265.03333333333336" stroke="#000" stroke-width="1.05"/>
<line x1="332.55" y1="259.54083333333335" x2="339.34999999999997" y2="259.54083333333335" stroke="#000" stroke-width="1.05"/>
<rect x="328.8" y="264.53" width="14.3" height="66.57" fill="#a40028"/>
<line x1="357.15" y1="320.24963333333335" x2="357.15" y2="324.07796666666667" stroke="#000" stroke-width="1.05"/>
<line x1="353.75" y1="320.24963333333335" x2="360.54999999999995" y2="320.24963333333335" stroke="#000" stroke-width="1.05"/>
<rect x="350" y="323.58" width="14.3" height="7.52" fill="#2d4b7e"/>
<text font-size="6.74" text-anchor="middle" x="357.29999999999995" y="319.55" fill="#000" stroke="#000" stroke-width="0.35" letter-spacing="0.3">****</text>
<line x1="378.45" y1="252.55133333333333" x2="378.45" y2="265.03333333333336" stroke="#000" stroke-width="1.05"/>
<line x1="375.05" y1="252.55133333333333" x2="381.84999999999997" y2="252.55133333333333" stroke="#000" stroke-width="1.05"/>
<rect x="371.3" y="264.53" width="14.3" height="66.57" fill="#a40028"/>
<line x1="400.15" y1="329.5024" x2="400.15" y2="331.0674666666667" stroke="#000" stroke-width="1.05"/>
<line x1="396.75" y1="329.5024" x2="403.54999999999995" y2="329.5024" stroke="#000" stroke-width="1.05"/>
<rect x="393" y="330.57" width="14.3" height="0.53" fill="#2d4b7e"/>
<text font-size="6.74" text-anchor="middle" x="400.29999999999995" y="328.8" fill="#000" stroke="#000" stroke-width="0.35" letter-spacing="0.3">****</text>
<line x1="435.95" y1="256.27906666666667" x2="435.95" y2="265.03333333333336" stroke="#000" stroke-width="1.05"/>
<line x1="432.55" y1="256.27906666666667" x2="439.34999999999997" y2="256.27906666666667" stroke="#000" stroke-width="1.05"/>
<rect x="428.8" y="264.53" width="14.3" height="66.57" fill="#a40028"/>
<line x1="457.15" y1="240.4362" x2="457.15" y2="263.702" stroke="#000" stroke-width="1.05"/>
<line x1="453.75" y1="240.4362" x2="460.54999999999995" y2="240.4362" stroke="#000" stroke-width="1.05"/>
<rect x="450" y="263.2" width="14.3" height="67.9" fill="#2d4b7e"/>
<line x1="321.6" y1="228.6" x2="321.6" y2="331.65000000000003" stroke="#000" stroke-width="1.1"/>
<line x1="318.6" y1="331.1" x2="472" y2="331.1" stroke="#000" stroke-width="1.1"/>
<line x1="318.6" y1="231.25" x2="321.6" y2="231.25" stroke="#000" stroke-width="1.1"/>
<line x1="318.6" y1="264.53333333333336" x2="321.6" y2="264.53333333333336" stroke="#000" stroke-width="1.1"/>
<line x1="318.6" y1="297.81666666666666" x2="321.6" y2="297.81666666666666" stroke="#000" stroke-width="1.1"/>
<line x1="335.9" y1="331.1" x2="335.9" y2="334.70000000000005" stroke="#000" stroke-width="1.1"/>
<line x1="357.1" y1="331.1" x2="357.1" y2="334.70000000000005" stroke="#000" stroke-width="1.1"/>
<line x1="378.4" y1="331.1" x2="378.4" y2="334.70000000000005" stroke="#000" stroke-width="1.1"/>
<line x1="400" y1="331.1" x2="400" y2="334.70000000000005" stroke="#000" stroke-width="1.1"/>
<line x1="435.9" y1="331.1" x2="435.9" y2="334.70000000000005" stroke="#000" stroke-width="1.1"/>
<line x1="457.1" y1="331.1" x2="457.1" y2="334.70000000000005" stroke="#000" stroke-width="1.1"/>
<text font-size="8.24" text-anchor="end" x="314.6" y="234.15" fill="#000">150</text>
<text font-size="8.24" text-anchor="end" x="314.6" y="267.43" fill="#000">100</text>
<text font-size="8.24" text-anchor="end" x="314.6" y="300.72" fill="#000">50</text>
<text font-size="8.24" text-anchor="end" x="314.6" y="334.0" fill="#000">0.0</text>
<text font-size="10.27" textLength="70.5" lengthAdjust="spacingAndGlyphs" transform="translate(294.8,315.5) rotate(-90)" fill="#000" stroke="#000" stroke-width="0.2">Cell growth[ % of Ctrl]</text>
<text font-size="8.4" text-anchor="end" transform="translate(340.09999999999997,341.40000000000003) rotate(-45)" fill="#000" stroke="#000" stroke-width="0.15">Control</text>
<text font-size="8.4" text-anchor="end" transform="translate(361.3,341.40000000000003) rotate(-45)" fill="#000" stroke="#000" stroke-width="0.15">DOT1L</text>
<text font-size="8.4" text-anchor="end" transform="translate(382.59999999999997,341.40000000000003) rotate(-45)" fill="#000" stroke="#000" stroke-width="0.15">Control</text>
<text font-size="8.4" text-anchor="end" transform="translate(404.2,341.40000000000003) rotate(-45)" fill="#000" stroke="#000" stroke-width="0.15">DN</text>
<text font-size="8.4" text-anchor="end" transform="translate(440.09999999999997,341.40000000000003) rotate(-45)" fill="#000" stroke="#000" stroke-width="0.15">Control</text>
<text font-size="8.4" text-anchor="end" transform="translate(461.3,341.40000000000003) rotate(-45)" fill="#000" stroke="#000" stroke-width="0.15">DOT1L</text>
<text font-size="7.92" textLength="22.5" lengthAdjust="spacingAndGlyphs" x="355.5" y="216" fill="#000">Murine</text>
<text font-size="7.92" textLength="50" lengthAdjust="spacingAndGlyphs" x="341.75" y="228.2" fill="#000">KMT2A-MLLT3</text>
<text font-size="7.92" textLength="22.5" lengthAdjust="spacingAndGlyphs" x="434.5" y="216" fill="#000">Murine</text>
<text font-size="7.92" textLength="51.8" lengthAdjust="spacingAndGlyphs" x="419.5" y="228.2" fill="#000">HOXA9/MEIS1</text>
<line x1="324.5" y1="232.5" x2="409.5" y2="232.5" stroke="#000" stroke-width="0.9"/>
<line x1="421.2" y1="232.5" x2="470" y2="232.5" stroke="#000" stroke-width="0.9"/>
<text font-size="12.3" font-weight="bold" transform="translate(7.5,388.2) scale(0.92,1)" fill="#000" stroke="#000" stroke-width="0.4">F</text>
<text font-size="8.77" font-weight="bold" textLength="54.3" lengthAdjust="spacingAndGlyphs" x="57.5" y="396" fill="#000" stroke="#000" stroke-width="0.18">THP1 + iAF10</text>
<text font-size="8.77" font-weight="bold" textLength="53.3" lengthAdjust="spacingAndGlyphs" x="135.9" y="396" fill="#000" stroke="#000" stroke-width="0.18">U937 + iAF10</text>
<text font-size="8.77" font-weight="bold" textLength="47.6" lengthAdjust="spacingAndGlyphs" x="216.6" y="396" fill="#000" stroke="#000" stroke-width="0.18">P31 + iAF10</text>
<text font-size="8.67" textLength="20" lengthAdjust="spacingAndGlyphs" x="26.25" y="407.9" fill="#000">AF10</text>
<text font-size="8.67" text-anchor="middle" x="67.5" y="407.6" fill="#000">-</text>
<text font-size="8.67" text-anchor="middle" x="141.6" y="407.6" fill="#000">-</text>
<text font-size="8.67" text-anchor="middle" x="219.5" y="407.6" fill="#000">-</text>
<text font-size="9.63" text-anchor="middle" x="98.75" y="408.3" fill="#000" stroke="#000" stroke-width="0.15">+</text>
<text font-size="9.63" text-anchor="middle" x="177.1" y="408.3" fill="#000" stroke="#000" stroke-width="0.15">+</text>
<text font-size="9.63" text-anchor="middle" x="255" y="408.3" fill="#000" stroke="#000" stroke-width="0.15">+</text>
<text font-size="8.77" textLength="41.2" lengthAdjust="spacingAndGlyphs" x="7.5" y="430.9" fill="#000">H3K79me2</text>
<text font-size="8.77" textLength="23" lengthAdjust="spacingAndGlyphs" x="25" y="463" fill="#000">β-actin</text>
<clipPath id="cF1"><rect x="52" y="413.3" width="65.8" height="28.2"/></clipPath>
<rect x="52" y="413.3" width="65.8" height="28.2" fill="url(#gF1)"/>
<g clip-path="url(#cF1)">
<rect x="59.5" y="425.7" width="17" height="1.6" rx="0.8" fill="#909090" opacity="0.4" filter="url(#bl0_9)"/>
<rect x="90.05" y="424.95" width="18.5" height="1.9" rx="0.95" fill="#505050" opacity="0.7" filter="url(#bl0_9)"/>
<circle cx="71" cy="441" r="0.6" fill="#333"/>
</g>
<rect x="52" y="413.3" width="65.8" height="28.2" fill="none" stroke="#333" stroke-width="0.8"/>
<clipPath id="cF1b"><rect x="52" y="445.3" width="65.8" height="32.1"/></clipPath>
<rect x="52" y="445.3" width="65.8" height="32.1" fill="url(#gF1b)"/>
<g clip-path="url(#cF1b)">
<rect x="50" y="452" width="70" height="16" fill="#f2f2f2" opacity="0.55" filter="url(#bl1_5)"/>
<path d="M51,456.3 L55,456.4 Q57.5,458.1 60,458.1 L79.5,458.1 Q81.5,456.1 83.5,456 L88,456 Q90,457.8 92.5,457.8 L110,457.8 Q113,455.7 115,455.6 L119,455.6 L119,459.2 L115.6,459.4 Q113.5,464 110,464 L91.5,464 Q87.5,464 85.3,459.6 Q83,464 79.5,464 L61,464 Q56.5,464 54.4,459.3 L51,459 Z" fill="#060606" stroke="#060606" stroke-width="0.6" stroke-linejoin="round" filter="url(#bl0_6)"/>
</g>
<rect x="52" y="445.3" width="65.8" height="32.1" fill="none" stroke="#333" stroke-width="0.8"/>
<clipPath id="cF2"><rect x="130.3" y="413.4" width="66.1" height="28.3"/></clipPath>
<rect x="130.3" y="413.4" width="66.1" height="28.3" fill="url(#gF2)"/>
<g clip-path="url(#cF2)">
<rect x="140.5" y="425.85" width="19" height="1.5" rx="0.75" fill="#777" opacity="0.3" filter="url(#bl1)"/>
<rect x="168.0" y="425.3" width="24" height="2.4" rx="1.2" fill="#555" opacity="0.45" filter="url(#bl1)"/>
<rect x="169.0" y="425.3" width="5" height="2.4" rx="1.2" fill="#444" opacity="0.4" filter="url(#bl0_9)"/>
<rect x="184.5" y="425.0" width="6" height="2.6" rx="1.3" fill="#444" opacity="0.45" filter="url(#bl0_9)"/>
</g>
<rect x="130.3" y="413.4" width="66.1" height="28.3" fill="none" stroke="#111" stroke-width="1.3"/>
<clipPath id="cF2b"><rect x="130.3" y="445.4" width="66.1" height="32"/></clipPath>
<rect x="130.3" y="445.4" width="66.1" height="32" fill="url(#gF2b)"/>
<g clip-path="url(#cF2b)">
<rect x="131" y="453" width="65" height="15" fill="#cccccc" opacity="0.4" filter="url(#bl1_5)"/>
<path d="M134.3,456.2 C137.3,456.2 137.9,459 141.3,459 L155.5,459 C158.9,459 159.5,456.2 162.5,456.2 L162.5,462 C160.7,465.6 157.7,465.6 154.5,465.6 L142.3,465.6 C139.10000000000002,465.6 136.10000000000002,465.6 134.3,462 Z" fill="#080808" filter="url(#bl0_8)"/>
<path d="M165,456.8 C168.0,456.8 168.6,459.5 172,459.5 L188.3,459.5 C191.70000000000002,459.5 192.3,456.8 195.3,456.8 L195.3,462.5 C193.5,466 190.5,466 187.3,466 L173,466 C169.8,466 166.8,466 165,462.5 Z" fill="#080808" filter="url(#bl0_8)"/>
<circle cx="165.8" cy="470.6" r="0.7" fill="#666"/><circle cx="177.5" cy="468.5" r="0.7" fill="#222"/>
</g>
<rect x="130.3" y="445.4" width="66.1" height="32" fill="none" stroke="#222" stroke-width="1.0"/>
<clipPath id="cF3"><rect x="211" y="413.4" width="59.3" height="27.4"/></clipPath>
<rect x="211" y="413.4" width="59.3" height="27.4" fill="url(#gF3)"/>
<g clip-path="url(#cF3)">
<rect x="217.5" y="423.25" width="17" height="1.5" rx="0.75" fill="#999" opacity="0.3" filter="url(#bl1)"/>
<rect x="242.2" y="423.0" width="24" height="4" rx="2.0" fill="#3a3a3a" opacity="0.7" filter="url(#bl1_1)"/>
<rect x="243.0" y="422.9" width="7" height="4.2" rx="2.1" fill="#2a2a2a" opacity="0.55" filter="url(#bl1)"/>
<rect x="258.5" y="422.9" width="7" height="4.2" rx="2.1" fill="#2a2a2a" opacity="0.55" filter="url(#bl1)"/>
</g>
<rect x="211" y="413.4" width="59.3" height="27.4" fill="none" stroke="#222" stroke-width="1.0"/>
<clipPath id="cF3b"><rect x="211" y="445.6" width="59.3" height="31.8"/></clipPath>
<rect x="211" y="445.6" width="59.3" height="31.8" fill="url(#gF3b)"/>
<g clip-path="url(#cF3b)">
<rect x="211" y="453" width="60" height="14" fill="#d8d8d8" opacity="0.4" filter="url(#bl1_5)"/>
<path d="M213.2,456.4 C216.2,456.4 216.79999999999998,458.6 220.2,458.6 L234.2,458.6 C237.6,458.6 238.2,456.4 241.2,456.4 L241.2,461.5 C239.39999999999998,464.6 236.39999999999998,464.6 233.2,464.6 L221.2,464.6 C218.0,464.6 215.0,464.6 213.2,461.5 Z" fill="#080808" filter="url(#bl0_8)"/>
<path d="M242.6,456.5 C245.6,456.5 246.2,458.2 249.6,458.2 L264.5,458.2 C267.9,458.2 268.5,456.5 271.5,456.5 L271.5,462 C269.7,465.3 266.7,465.3 263.5,465.3 L250.6,465.3 C247.4,465.3 244.4,465.3 242.6,462 Z" fill="#080808" filter="url(#bl0_8)"/>
<circle cx="247.8" cy="449.7" r="0.8" fill="#333"/>
</g>
<rect x="211" y="445.6" width="59.3" height="31.8" fill="none" stroke="#222" stroke-width="1.0"/>
<text font-size="12.3" font-weight="bold" transform="translate(287.6,388.4) scale(0.92,1)" fill="#000" stroke="#000" stroke-width="0.4">G</text>
<line x1="337.5" y1="435.00800000000004" x2="337.5" y2="437.25" stroke="#000" stroke-width="1.05"/>
<line x1="334.1" y1="435.00800000000004" x2="340.9" y2="435.00800000000004" stroke="#000" stroke-width="1.05"/>
<rect x="329.5" y="436.75" width="16" height="67.0" fill="#a40028"/>
<line x1="361.2" y1="455.041" x2="361.2" y2="466.06" stroke="#000" stroke-width="1.05"/>
<line x1="357.8" y1="455.041" x2="364.59999999999997" y2="455.041" stroke="#000" stroke-width="1.05"/>
<rect x="353.2" y="465.56" width="16" height="38.19" fill="#2d4b7e"/>
<text font-size="6.74" text-anchor="middle" x="361.34999999999997" y="453.74" fill="#000" stroke="#000" stroke-width="0.35" letter-spacing="0.3">*</text>
<line x1="384.9" y1="434.271" x2="384.9" y2="437.25" stroke="#000" stroke-width="1.05"/>
<line x1="381.5" y1="434.271" x2="388.29999999999995" y2="434.271" stroke="#000" stroke-width="1.05"/>
<rect x="376.9" y="436.75" width="16" height="67.0" fill="#a40028"/>
<line x1="408.6" y1="468.106" x2="408.6" y2="470.08" stroke="#000" stroke-width="1.05"/>
<line x1="405.20000000000005" y1="468.106" x2="412.0" y2="468.106" stroke="#000" stroke-width="1.05"/>
<rect x="400.6" y="469.58" width="16" height="34.17" fill="#2d4b7e"/>
<text font-size="6.74" text-anchor="middle" x="408.75" y="466.81" fill="#000" stroke="#000" stroke-width="0.35" letter-spacing="0.3">****</text>
<line x1="432.4" y1="431.457" x2="432.4" y2="437.25" stroke="#000" stroke-width="1.05"/>
<line x1="429.0" y1="431.457" x2="435.79999999999995" y2="431.457" stroke="#000" stroke-width="1.05"/>
<rect x="424.4" y="436.75" width="16" height="67.0" fill="#a40028"/>
<line x1="456.0" y1="450.418" x2="456.0" y2="452.258" stroke="#000" stroke-width="1.05"/>
<line x1="452.6" y1="450.418" x2="459.4" y2="450.418" stroke="#000" stroke-width="1.05"/>
<rect x="448" y="451.76" width="16" height="51.99" fill="#2d4b7e"/>
<text font-size="6.74" text-anchor="middle" x="456.15" y="449.12" fill="#000" stroke="#000" stroke-width="0.35" letter-spacing="0.3">**</text>
<line x1="321.7" y1="400" x2="321.7" y2="504.3" stroke="#000" stroke-width="1.1"/>
<line x1="318.7" y1="503.75" x2="472" y2="503.75" stroke="#000" stroke-width="1.1"/>
<line x1="318.7" y1="403.25" x2="321.7" y2="403.25" stroke="#000" stroke-width="1.1"/>
<line x1="318.7" y1="436.75" x2="321.7" y2="436.75" stroke="#000" stroke-width="1.1"/>
<line x1="318.7" y1="470.25" x2="321.7" y2="470.25" stroke="#000" stroke-width="1.1"/>
<line x1="337.5" y1="503.75" x2="337.5" y2="507.35" stroke="#000" stroke-width="1.1"/>
<line x1="360.9" y1="503.75" x2="360.9" y2="507.35" stroke="#000" stroke-width="1.1"/>
<line x1="384.6" y1="503.75" x2="384.6" y2="507.35" stroke="#000" stroke-width="1.1"/>
<line x1="408.3" y1="503.75" x2="408.3" y2="507.35" stroke="#000" stroke-width="1.1"/>
<line x1="432.2" y1="503.75" x2="432.2" y2="507.35" stroke="#000" stroke-width="1.1"/>
<line x1="456.1" y1="503.75" x2="456.1" y2="507.35" stroke="#000" stroke-width="1.1"/>
<text font-size="8.24" text-anchor="end" x="314.7" y="406.15" fill="#000">150</text>
<text font-size="8.24" text-anchor="end" x="314.7" y="439.65" fill="#000">100</text>
<text font-size="8.24" text-anchor="end" x="314.7" y="473.15" fill="#000">50</text>
<text font-size="8.24" text-anchor="end" x="314.7" y="506.65" fill="#000">0.0</text>
<text font-size="10.27" textLength="77" lengthAdjust="spacingAndGlyphs" transform="translate(294.8,492) rotate(-90)" fill="#000" stroke="#000" stroke-width="0.2">Cell growth [% of DMSO]</text>
<text font-size="8.4" text-anchor="end" transform="translate(341.7,514.05) rotate(-45)" fill="#000" stroke="#000" stroke-width="0.15">DMSO</text>
<text font-size="8.4" text-anchor="end" transform="translate(365.09999999999997,514.05) rotate(-45)" fill="#000" stroke="#000" stroke-width="0.15">AF10</text>
<text font-size="8.4" text-anchor="end" transform="translate(388.8,514.05) rotate(-45)" fill="#000" stroke="#000" stroke-width="0.15">DMSO</text>
<text font-size="8.4" text-anchor="end" transform="translate(412.5,514.05) rotate(-45)" fill="#000" stroke="#000" stroke-width="0.15">AF10</text>
<text font-size="8.4" text-anchor="end" transform="translate(436.4,514.05) rotate(-45)" fill="#000" stroke="#000" stroke-width="0.15">DMSO</text>
<text font-size="8.4" text-anchor="end" transform="translate(460.3,514.05) rotate(-45)" fill="#000" stroke="#000" stroke-width="0.15">AF10</text>
<text font-size="7.92" textLength="18.8" lengthAdjust="spacingAndGlyphs" x="339.25" y="395.8" fill="#000">THP1</text>
<text font-size="7.92" textLength="18.8" lengthAdjust="spacingAndGlyphs" x="387.5" y="395.8" fill="#000">U937</text>
<text font-size="7.92" textLength="12.8" lengthAdjust="spacingAndGlyphs" x="437" y="395.8" fill="#000">P31</text>
<rect x="0" y="0" width="520" height="1" fill="#000"/><rect x="0" y="0" width="1.1" height="538" fill="#000"/><rect x="518.85" y="0" width="1.15" height="538" fill="#000"/><rect x="0" y="536.85" width="520" height="1.15" fill="#000"/>
</svg></body></html>
